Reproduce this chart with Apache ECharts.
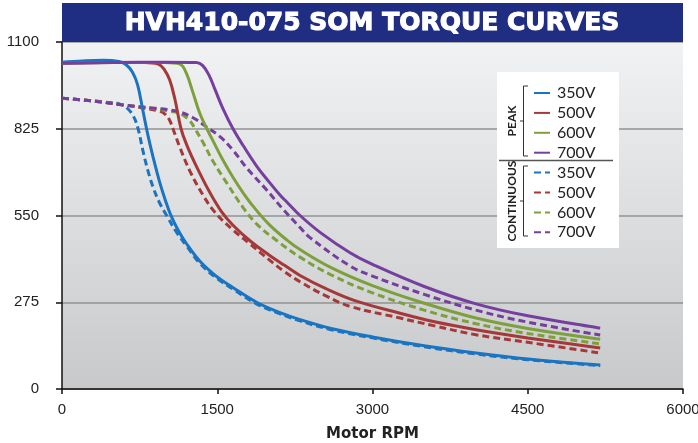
<!DOCTYPE html>
<html><head><meta charset="utf-8">
<script src="https://cdn.jsdelivr.net/npm/echarts@6/dist/echarts.min.js"></script>
<style>html,body{margin:0;padding:0;background:#fff}#c{width:698px;height:443px}</style>
</head><body><div id="c"></div>
<script>
const titleText = 'HVH410-075 SOM TORQUE CURVES';
const xAxisName = 'Motor RPM';
const voltages = ['350V', '500V', '600V', '700V'];
const groupNames = ['PEAK', 'CONTINUOUS'];
const colors = ['#1a74c2', '#a53838', '#7ea03c', '#763e9e'];

const peak350Rpm = [0, 200, 400, 550, 620, 680, 730, 780, 830, 880, 940, 1000, 1050, 1120, 1200, 1333, 1500, 1650, 1880, 2100, 2300, 2600, 3000, 3500, 4000, 4500, 5200];
const peak350Torque = [1036, 1040, 1042, 1038, 1028, 1005, 965, 885, 805, 735, 660, 597, 552, 505, 462, 405, 355, 322, 275, 243, 220, 192, 165, 137, 114, 95, 76];

const peak500Rpm = [0, 400, 800, 930, 990, 1040, 1090, 1150, 1210, 1300, 1430, 1546, 1650, 1816, 2000, 2150, 2300, 2550, 2830, 3266, 3600, 4000, 4500, 5200];
const peak500Torque = [1033, 1035, 1035, 1030, 1012, 980, 920, 825, 770, 705, 622, 560, 520, 470, 425, 392, 360, 318, 280, 240, 213, 188, 162, 130];

const peak600Rpm = [0, 500, 1000, 1140, 1200, 1260, 1330, 1400, 1480, 1556, 1650, 1750, 1850, 2000, 2174, 2300, 2600, 3000, 3500, 4000, 4500, 5200];
const peak600Torque = [1033, 1035, 1035, 1030, 1002, 945, 875, 825, 773, 725, 672, 622, 578, 522, 472, 442, 385, 328, 272, 225, 192, 158];

const peak700Rpm = [0, 500, 1000, 1300, 1360, 1420, 1480, 1556, 1652, 1750, 1884, 1980, 2106, 2174, 2300, 2500, 2783, 3000, 3500, 4000, 4500, 5200];
const peak700Torque = [1033, 1035, 1036, 1035, 1025, 995, 948, 888, 825, 772, 705, 665, 615, 592, 550, 495, 432, 395, 325, 270, 232, 193];

const cont350Rpm = [0, 200, 400, 560, 630, 690, 735, 780, 830, 880, 940, 1015, 1100, 1200, 1333, 1500, 1650, 1880, 2100, 2300, 2600, 3000, 3500, 4000, 4500, 5200];
const cont350Torque = [922, 916, 910, 903, 890, 865, 825, 758, 692, 640, 592, 548, 500, 455, 398, 350, 317, 270, 239, 216, 188, 162, 134, 111, 93, 74];

const cont500Rpm = [0, 300, 600, 800, 950, 1000, 1040, 1072, 1140, 1237, 1362, 1478, 1650, 1816, 2000, 2150, 2300, 2550, 2783, 3266, 3600, 4000, 4500, 5200];
const cont500Torque = [922, 913, 900, 890, 880, 870, 852, 825, 765, 690, 615, 560, 505, 460, 410, 372, 340, 295, 262, 225, 200, 172, 148, 114];

const cont600Rpm = [0, 300, 600, 900, 1050, 1111, 1170, 1237, 1285, 1362, 1459, 1594, 1750, 1884, 2077, 2300, 2600, 3000, 3500, 4000, 4500, 5200];
const cont600Torque = [922, 913, 900, 888, 880, 877, 868, 850, 825, 782, 722, 652, 575, 522, 470, 418, 362, 305, 250, 207, 176, 143];

const cont700Rpm = [0, 300, 600, 900, 1014, 1140, 1266, 1400, 1527, 1652, 1787, 1980, 2135, 2300, 2396, 2783, 3000, 3500, 4000, 4500, 5200];
const cont700Torque = [922, 913, 900, 890, 886, 878, 860, 830, 800, 757, 700, 630, 570, 512, 480, 390, 358, 300, 250, 212, 171];

const peakRpm = [peak350Rpm, peak500Rpm, peak600Rpm, peak700Rpm];
const peakTorque = [peak350Torque, peak500Torque, peak600Torque, peak700Torque];
const contRpm = [cont350Rpm, cont500Rpm, cont600Rpm, cont700Rpm];
const contTorque = [cont350Torque, cont500Torque, cont600Torque, cont700Torque];

function zip(a, b) { return a.map((v, i) => [v, b[i]]); }

const series = [];
voltages.forEach((v, i) => {
  series.push({
    name: groupNames[0] + ' ' + v, type: 'line', symbol: 'none', smooth: 0.4,
    data: zip(peakRpm[i], peakTorque[i]),
    lineStyle: { color: colors[i], width: 3 }, itemStyle: { color: colors[i] }, z: 3
  });
});
voltages.forEach((v, i) => {
  series.push({
    name: groupNames[1] + ' ' + v, type: 'line', symbol: 'none', smooth: 0.4,
    data: zip(contRpm[i], contTorque[i]),
    lineStyle: { color: colors[i], width: 3, type: [7, 4] }, itemStyle: { color: colors[i] }, z: 2
  });
});

const labelFont = { fontFamily: 'Liberation Sans', fontSize: 15, color: '#222' };

const chart = echarts.init(document.getElementById('c'), null, { renderer: 'canvas' });
chart.setOption({
  animation: false,
  grid: {
    left: 62, right: 15, top: 42, bottom: 54, show: true, borderWidth: 0,
    outerBoundsMode: 'none', containLabel: false,
    backgroundColor: { type: 'linear', x: 0, y: 0, x2: 0, y2: 1,
      colorStops: [{ offset: 0, color: '#f1f2f3' }, { offset: 1, color: '#c8c9cb' }] }
  },
  xAxis: {
    type: 'value', min: 0, max: 6000, interval: 1500,
    name: xAxisName, nameLocation: 'middle', nameGap: 38,
    nameTextStyle: { fontFamily: 'DejaVu Sans', fontWeight: 'bold', fontSize: 15, color: '#222' },
    axisLine: { show: true, lineStyle: { color: '#111', width: 1.5 } },
    axisTick: { show: true, length: 5, lineStyle: { color: '#111', width: 1.5 } },
    axisLabel: Object.assign({ margin: 13, formatter: v => String(v) }, labelFont),
    splitLine: { show: false }
  },
  yAxis: {
    type: 'value', min: 0, max: 1100, interval: 275,
    axisLine: { show: true, lineStyle: { color: '#111', width: 1.5 } },
    axisTick: { show: true, length: 6, lineStyle: { color: '#111', width: 1.5 } },
    axisLabel: Object.assign({ margin: 23, formatter: v => String(v) }, labelFont),
    splitLine: { show: true, lineStyle: { color: '#929292', width: 1.5 } }
  },
  legend: {
    orient: 'vertical', left: 533, top: 85, padding: 0, itemWidth: 16, itemHeight: 14, itemGap: 3.9, z: 10,
    data: series.map(s => s.name),
    formatter: n => n.split(' ')[1],
    itemStyle: { opacity: 0 },
    textStyle: { fontFamily: 'Lato', fontSize: 16, color: '#222', padding: [0, 0, 0, 2] }
  },
  graphic: [
    { type: 'rect', z: 5, shape: { x: 62, y: 3, width: 621, height: 39 }, style: { fill: '#1f2e82' } },
    { type: 'text', z: 6, x: 372, y: 23, style: { text: titleText, fill: '#fff', font: 'bold 25px "DejaVu Sans"', align: 'center', verticalAlign: 'middle', stroke: '#fff', lineWidth: 1.1 } },
    { type: 'rect', z: 5, shape: { x: 497, y: 72, width: 122, height: 176 }, style: { fill: '#fff' } },
    { type: 'line', z: 6, shape: { x1: 499, y1: 160.5, x2: 613, y2: 160.5 }, style: { stroke: '#555', lineWidth: 1.5 } },
    { type: 'polyline', z: 6, shape: { points: [[528, 86], [523.5, 86], [523.5, 156], [528, 156]] }, style: { stroke: '#333', lineWidth: 1, fill: null } },
    { type: 'line', z: 6, shape: { x1: 520, y1: 121, x2: 523.5, y2: 121 }, style: { stroke: '#333', lineWidth: 1 } },
    { type: 'polyline', z: 6, shape: { points: [[528, 166], [523.5, 166], [523.5, 236], [528, 236]] }, style: { stroke: '#333', lineWidth: 1, fill: null } },
    { type: 'line', z: 6, shape: { x1: 520, y1: 201, x2: 523.5, y2: 201 }, style: { stroke: '#333', lineWidth: 1 } },
    { type: 'text', z: 6, x: 512, y: 121, rotation: Math.PI / 2, style: { text: groupNames[0], fill: '#222', font: 'bold 12px Lato', align: 'center', verticalAlign: 'middle' } },
    { type: 'text', z: 6, x: 512, y: 201, rotation: Math.PI / 2, style: { text: groupNames[1], fill: '#222', font: 'bold 12px Lato', align: 'center', verticalAlign: 'middle' } }
  ],
  series: series
});
</script>
</body></html>
